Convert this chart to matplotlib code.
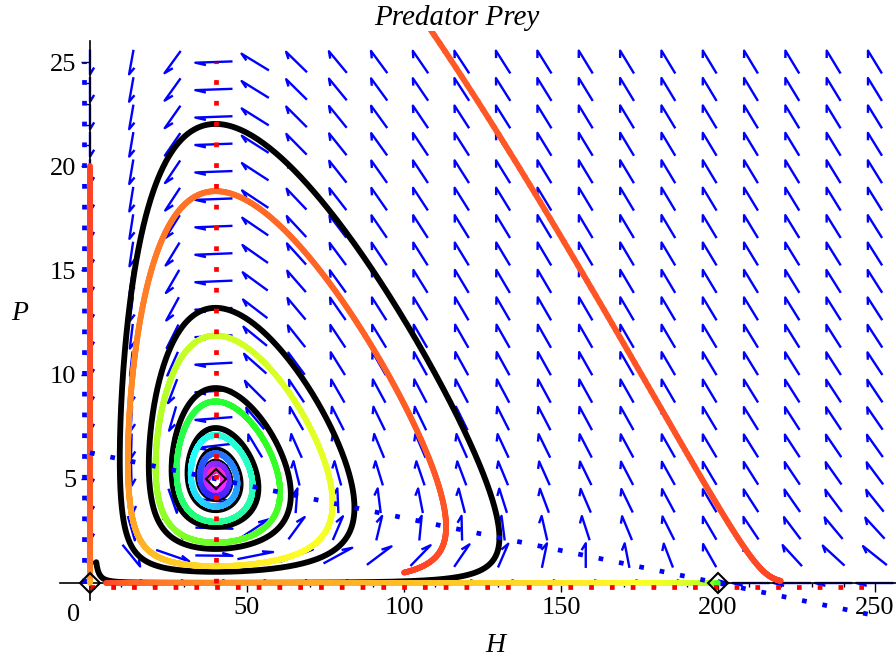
import numpy as np
import matplotlib
matplotlib.use("Agg")
import matplotlib.pyplot as plt
import matplotlib.transforms as mtransforms
from matplotlib.collections import LineCollection
from matplotlib.colors import hsv_to_rgb
from matplotlib.ticker import FixedLocator

plt.rcParams['font.family'] = ['Liberation Serif', 'DejaVu Serif']

# model: H' = r H (1 - H/K) - a H P ,  P' = b H P - c P
r, K, a = 0.2, 200.0, 0.032
b, c = 0.01, 0.4
t_end = 167.0

# starting points (H, P) of the trajectories
start_black = (2.0, 1.0)
starts_colour = [(100.0, 0.5), (220.0, 0.1), (0.0, 20.0), (5.0, 0.0)]

# equilibrium points
equil_H = [0, 200, 40]
equil_P = [0, 0, 5]

# direction field grid and window
grid_H = np.linspace(0, 250, 20)
grid_P = np.linspace(0, 25, 20)
P_stop = 26.5

xticks = [50, 100, 150, 200, 250]
yticks = [5, 10, 15, 20, 25]


def rhs(y):
    H, P = y
    return np.array([r * H * (1 - H / K) - a * H * P, b * H * P - c * P])


def solve(y0, n=8000):
    # RK4, stops once the curve leaves the window (like DEplot obsrange)
    dt = t_end / n
    out = [np.array(y0, float)]
    y = out[0]
    for i in range(n):
        k1 = rhs(y)
        k2 = rhs(y + dt / 2 * k1)
        k3 = rhs(y + dt / 2 * k2)
        k4 = rhs(y + dt * k3)
        y = y + dt / 6 * (k1 + 2 * k2 + 2 * k3 + k4)
        out.append(y)
        if y[1] > P_stop:
            break
    return np.array(out)


fig = plt.figure(figsize=(8.96, 6.58), dpi=100)
ax = fig.add_axes([60 / 896, 1 - 619.5 / 658, 836 / 896, (619.5 - 31) / 658])
ax.set_xlim(-9.55, 256.7)
ax.set_ylim(-1.75, 26.49)

# direction field, Maple style half-barb arrows
dH = grid_H[1] - grid_H[0]
dP = grid_P[1] - grid_P[0]
L = 0.9
barb = 0.3 * L
ang = np.radians(22)
segs = []
for h in grid_H:
    for p in grid_P:
        fh, fp = rhs((h, p))
        u, v = fh / dH, fp / dP
        n = np.hypot(u, v)
        if n == 0:
            continue
        u, v = u / n, v / n
        tail = (h - 0.5 * L * u * dH, p - 0.5 * L * v * dP)
        tip = (h + 0.5 * L * u * dH, p + 0.5 * L * v * dP)
        bu, bv = -u, -v
        ru = bu * np.cos(-ang) - bv * np.sin(-ang)
        rv = bu * np.sin(-ang) + bv * np.cos(-ang)
        end = (tip[0] + barb * ru * dH, tip[1] + barb * rv * dP)
        segs.append([tail, tip, end])
ax.add_collection(LineCollection(segs, colors='#0000ff', linewidths=1.7,
                                 joinstyle='round', zorder=2))

# trajectories
tr = solve(start_black)
ax.plot(tr[:, 0], tr[:, 1], color='black', lw=4.2, zorder=3,
        solid_capstyle='round')

n_steps = 8000
for s in starts_colour:
    tr = solve(s, n_steps)
    pts = tr.reshape(-1, 1, 2)
    sg = np.concatenate([pts[:-1], pts[1:]], axis=1)
    hue = 0.02 + 0.88 * np.arange(len(sg)) / n_steps
    hsv = np.stack([hue, np.full_like(hue, 0.85), np.ones_like(hue)], axis=1)
    ax.add_collection(LineCollection(sg, colors=hsv_to_rgb(hsv), linewidths=4.2,
                                     capstyle='round', zorder=3))

# nullclines (the dots sit a few pixels off the axes, as in Maple)
dots = dict(lw=3.4, linestyle=(0, (1, 3.4)), dash_capstyle='butt', zorder=4)
left6 = ax.transData + mtransforms.ScaledTranslation(-0.06, 0, fig.dpi_scale_trans)
down4 = ax.transData + mtransforms.ScaledTranslation(0, -0.04, fig.dpi_scale_trans)
Hn = np.array([grid_H[0], grid_H[-1]])
ax.plot(Hn, r / a * (1 - Hn / K), color='#0000ff', **dots)
ax.plot([0, 0], [grid_P[0], grid_P[-1]], color='#0000ff', transform=left6, **dots)
ax.plot([c / b, c / b], [grid_P[0], grid_P[-1]], color='#ff0000', **dots)
ax.plot(Hn, [0, 0], color='#ff0000', transform=down4, **dots)

ax.plot(equil_H, equil_P, 'D', ms=10, mfc='none', mec='black', mew=1.5,
        zorder=5, clip_on=False)

# axes through the origin
for side in ['top', 'right']:
    ax.spines[side].set_visible(False)
ax.spines['left'].set_position(('data', 0))
ax.spines['bottom'].set_position(('data', 0))
ax.spines['left'].set_bounds(-0.8, 26.0)
ax.spines['bottom'].set_bounds(-9.5, 256.7)
for side in ['left', 'bottom']:
    ax.spines[side].set_linewidth(1.2)
    ax.spines[side].set_zorder(2.5)

ax.set_xticks(xticks)
ax.set_yticks(yticks)
ax.xaxis.set_minor_locator(FixedLocator([v for v in range(10, 251, 10)]))
ax.yaxis.set_minor_locator(FixedLocator([v for v in range(1, 26)]))
ax.tick_params(which='major', direction='out', length=6.5, width=1.0,
               labelsize=19, pad=3.5)
ax.tick_params(which='minor', direction='out', length=3, width=1.0)
ax.annotate('0', xy=(0, 0), xytext=(-12, -23), textcoords='offset points',
            ha='center', va='center', fontsize=19)

fig.text(495 / 896, 1 - 645 / 658, 'H', style='italic', fontsize=20,
         ha='center', va='center')
fig.text(20 / 896, 1 - 313 / 658, 'P', style='italic', fontsize=20,
         ha='center', va='center')
fig.text(457 / 896, 1 - 18 / 658, 'Predator Prey', style='italic', fontsize=21,
         ha='center', va='center')

fig.savefig('out.png', dpi=100)
